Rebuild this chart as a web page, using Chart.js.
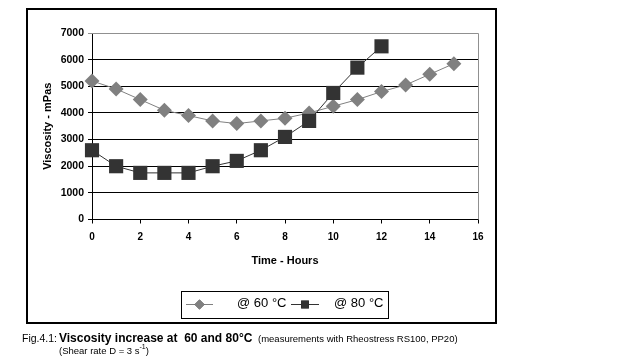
<!DOCTYPE html>
<html>
<head>
<meta charset="utf-8">
<script src="https://cdn.jsdelivr.net/npm/chart.js@4/dist/chart.umd.min.js"></script>
<style>
  body { margin: 0; background: #fff; }
  #wrap { width: 620px; height: 360px; }
</style>
</head>
<body>
<div id="wrap"><canvas id="c" width="620" height="360"></canvas></div>
<script>
// data
var hours60 = [0, 1, 2, 3, 4, 5, 6, 7, 8, 9, 10, 11, 12, 13, 14, 15];
var visc60 = [5200, 4900, 4500, 4100, 3900, 3700, 3600, 3700, 3800, 4000, 4250, 4500, 4800, 5050, 5450, 5850];
var hours80 = [0, 1, 2, 3, 4, 5, 6, 7, 8, 9, 10, 11, 12];
var visc80 = [2600, 2000, 1750, 1750, 1750, 2000, 2200, 2600, 3100, 3700, 4750, 5700, 6500];
var seriesLabels = ['@ 60 °C', '@ 80 °C'];
var xTitle = 'Time - Hours';
var yTitle = 'Viscosity - mPas';

var gray60 = 'rgb(128,128,128)';
var dark80 = 'rgb(51,51,51)';
var FONT = '"Liberation Sans", Arial, sans-serif';

function toPoints(xs, ys) {
    return xs.map(function (x, i) { return { x: x, y: ys[i] }; });
}

// frame, plot border, legend box and figure caption
var decorPlugin = {
    id: 'decor',
    afterDraw: function (chart) {
        var ctx = chart.ctx;
        var a = chart.chartArea;
        ctx.save();

        // grey top / right border of the plot area
        ctx.strokeStyle = '#909090';
        ctx.lineWidth = 1;
        ctx.beginPath();
        ctx.moveTo(a.left, a.top + 0.5);
        ctx.lineTo(a.right + 0.5, a.top + 0.5);
        ctx.lineTo(a.right + 0.5, a.bottom);
        ctx.stroke();

        // outer frame
        ctx.strokeStyle = '#000';
        ctx.lineWidth = 2;
        ctx.strokeRect(27, 9, 469, 314);

        // legend box
        ctx.lineWidth = 1;
        ctx.strokeRect(181.5, 291.5, 207, 27);
        var ly = 304.5;
        var items = [
            { x0: 186, x1: 213, text: 237, ds: chart.data.datasets[0] },
            { x0: 291, x1: 319, text: 334, ds: chart.data.datasets[1] }
        ];
        items.forEach(function (it) {
            ctx.strokeStyle = it.ds.borderColor;
            ctx.lineWidth = 1;
            ctx.beginPath();
            ctx.moveTo(it.x0, ly);
            ctx.lineTo(it.x1, ly);
            ctx.stroke();
            Chart.helpers.drawPoint(ctx, {
                pointStyle: it.ds.pointStyle,
                radius: it.ds.pointStyle === 'rect' ? 5.5 : 5,
                borderWidth: 0
            }, (it.x0 + it.x1) / 2, ly);
            ctx.fillStyle = it.ds.pointBackgroundColor;
            ctx.fill();
            ctx.fillStyle = '#000';
            ctx.font = '13px ' + FONT;
            ctx.textBaseline = 'middle';
            ctx.textAlign = 'left';
            ctx.fillText(it.ds.label, it.text, ly - 1);
        });

        // caption
        ctx.textBaseline = 'alphabetic';
        ctx.fillStyle = '#000';
        ctx.font = '10.5px ' + FONT;
        ctx.fillText('Fig.4.1:', 22, 342);
        ctx.font = 'bold 12px ' + FONT;
        ctx.fillText('Viscosity increase at  60 and 80°C', 59, 342);
        ctx.font = '9.5px ' + FONT;
        ctx.fillText('(measurements with Rheostress RS100, PP20)', 258, 342);
        var s = '(Shear rate D = 3 s';
        ctx.fillText(s, 59, 354);
        var w = ctx.measureText(s).width;
        ctx.font = '7px ' + FONT;
        ctx.fillText('-1', 59 + w, 349);
        var w2 = ctx.measureText('-1').width;
        ctx.font = '9.5px ' + FONT;
        ctx.fillText(')', 59 + w + w2, 354);

        ctx.restore();
    }
};

var ctx = document.getElementById('c').getContext('2d');
new Chart(ctx, {
    type: 'line',
    data: {
        datasets: [
            {
                label: seriesLabels[0],
                data: toPoints(hours60, visc60),
                order: 1, // squares are drawn on top
                borderColor: gray60,
                borderWidth: 1,
                pointStyle: 'rectRot',
                pointRadius: 7.5,
                pointBackgroundColor: gray60,
                pointBorderColor: gray60,
                pointBorderWidth: 0,
                tension: 0,
                fill: false,
                clip: false
            },
            {
                label: seriesLabels[1],
                data: toPoints(hours80, visc80),
                order: 0,
                borderColor: dark80,
                borderWidth: 1,
                pointStyle: 'rect',
                pointRadius: 10,
                pointBackgroundColor: dark80,
                pointBorderColor: dark80,
                pointBorderWidth: 0,
                tension: 0,
                fill: false,
                clip: false
            }
        ]
    },
    options: {
        animation: false,
        responsive: false,
        maintainAspectRatio: false,
        layout: { padding: { left: 27, top: 33, right: 142, bottom: 90.5 } },
        scales: {
            x: {
                type: 'linear',
                min: 0,
                max: 16,
                afterFit: function (scale) { scale.height = 50; },
                ticks: {
                    stepSize: 2,
                    padding: 8,
                    color: '#000',
                    font: { family: FONT, size: 10, weight: 'bold' }
                },
                grid: {
                    drawOnChartArea: false,
                    tickLength: 4,
                    color: '#000'
                },
                border: { color: '#000', width: 1 },
                title: {
                    display: true,
                    text: xTitle,
                    color: '#000',
                    padding: { top: 0, bottom: 2 },
                    font: { family: FONT, size: 11, weight: 'bold' }
                }
            },
            y: {
                min: 0,
                max: 7000,
                afterFit: function (scale) { scale.width = 65; },
                ticks: {
                    stepSize: 1000,
                    padding: 4,
                    color: '#000',
                    font: { family: FONT, size: 10.5, weight: 'bold' },
                    callback: function (value) { return String(value); }
                },
                grid: {
                    tickLength: 4,
                    color: function (c) { return c.tick && c.tick.value === 7000 ? '#909090' : '#000'; }
                },
                border: { color: '#000', width: 1 },
                title: {
                    display: true,
                    text: yTitle,
                    color: '#000',
                    padding: { top: 14, bottom: 0 },
                    font: { family: FONT, size: 11, weight: 'bold' }
                }
            }
        },
        plugins: {
            legend: { display: false },
            tooltip: { enabled: false }
        }
    },
    plugins: [decorPlugin]
});
</script>
</body>
</html>
